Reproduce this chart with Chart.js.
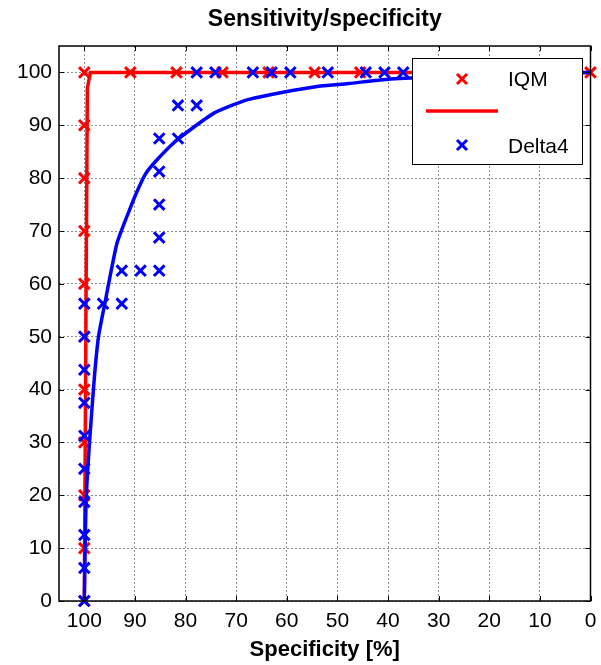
<!DOCTYPE html>
<html>
<head>
<meta charset="utf-8">
<script src="https://cdn.jsdelivr.net/npm/chart.js@4"></script>
<style>
  html, body { margin: 0; padding: 0; background: #fff; }
  #wrap { width: 601px; height: 665px; }
</style>
</head>
<body>
<div id="wrap"><canvas id="roc-chart" width="601" height="665"></canvas></div>
<script>
// IQM points (specificity %, sensitivity %)
const iqmSpec = [100, 100, 100, 100, 100, 100, 100, 100, 100, 100, 90.9, 81.8, 72.7, 63.6, 54.5, 45.5, 0];
const iqmSens = [0, 10, 20, 30, 40, 60, 70, 80, 90, 100, 100, 100, 100, 100, 100, 100, 100];

// IQM fitted curve
const iqmFitSpec = [100, 99.7, 99.4, 98.8, 0];
const iqmFitSens = [0, 50, 97, 100, 100];

// Delta4 points
const deltaSpec = [100, 100, 100, 100, 100, 100, 100, 100, 100, 100, 96.3, 92.6,
  92.6, 88.9, 85.2, 85.2, 85.2, 85.2, 85.2, 81.5, 81.5, 77.8,
  77.8, 74.1, 66.7, 63.0, 59.3, 51.9, 44.4, 40.7, 37.0];
const deltaSens = [0, 6.25, 12.5, 18.75, 25, 31.25, 37.5, 43.75, 50, 56.25, 56.25, 56.25,
  62.5, 62.5, 62.5, 68.75, 75, 81.25, 87.5, 87.5, 93.75, 93.75,
  100, 100, 100, 100, 100, 100, 100, 100, 100];

// Delta4 fitted curve
const deltaFitSpec = [100, 99.6, 98.2, 97.2, 95.8, 95.0, 93.6, 92.5, 91.4, 89.8, 87.9, 85.9, 82.3, 79.0, 74.4, 70.5, 67.5, 61, 54.3, 47.8, 40, 30, 20, 10, 0];
const deltaFitSens = [0, 20, 40, 50, 57, 61, 67.5, 70.5, 73.2, 77, 80.8, 83.2, 86.7, 89.2, 92.3, 93.9, 94.9, 96.2, 97.3, 97.9, 98.7, 99.2, 99.6, 99.9, 100];

const tickVals = [0, 10, 20, 30, 40, 50, 60, 70, 80, 90, 100];

const pts = (xs, ys) => xs.map((x, i) => ({ x: x, y: ys[i] }));

const font = "Arial, 'Liberation Sans', sans-serif";

// MATLAB-like box, inward ticks and legend
const boxPlugin = {
  id: 'box',
  afterDatasetsDraw(chart) {
    const ctx = chart.ctx;
    const a = chart.chartArea;
    const xs = chart.scales.x, ys = chart.scales.y;
    ctx.save();
    ctx.strokeStyle = '#000';
    ctx.lineWidth = 1;
    ctx.beginPath();
    tickVals.forEach(v => {
      const px = Math.round(xs.getPixelForValue(v)) + 0.5;
      ctx.moveTo(px, a.bottom); ctx.lineTo(px, a.bottom - 5);
      ctx.moveTo(px, a.top); ctx.lineTo(px, a.top + 5);
      const py = Math.round(ys.getPixelForValue(v)) + 0.5;
      ctx.moveTo(a.left, py); ctx.lineTo(a.left + 5, py);
      ctx.moveTo(a.right, py); ctx.lineTo(a.right - 5, py);
    });
    ctx.stroke();
    ctx.lineWidth = 1.5;
    ctx.strokeRect(a.left, a.top, a.right - a.left, a.bottom - a.top);

    // legend
    const lx = 412, ly = 58, lw = 170, lh = 106;
    ctx.fillStyle = '#fff';
    ctx.fillRect(lx, ly, lw, lh);
    ctx.lineWidth = 1;
    ctx.strokeRect(lx + 0.5, ly + 0.5, lw, lh);

    const cross = (cx, cy, color) => {
      ctx.strokeStyle = color;
      ctx.lineWidth = 3;
      ctx.beginPath();
      ctx.moveTo(cx - 5, cy - 5); ctx.lineTo(cx + 5, cy + 5);
      ctx.moveTo(cx - 5, cy + 5); ctx.lineTo(cx + 5, cy - 5);
      ctx.stroke();
    };
    cross(462, 79, '#ff0000');
    cross(462, 145, '#0000ff');
    ctx.strokeStyle = '#ff0000';
    ctx.lineWidth = 3.5;
    ctx.beginPath();
    ctx.moveTo(426, 111); ctx.lineTo(498, 111);
    ctx.stroke();

    ctx.fillStyle = '#000';
    ctx.font = '21px ' + font;
    ctx.textBaseline = 'middle';
    ctx.textAlign = 'left';
    ctx.fillText('IQM', 508, 80);
    ctx.fillText('Delta4', 508, 147);
    ctx.restore();
  }
};

const rocChart = new Chart(document.getElementById('roc-chart'), {
  type: 'scatter',
  data: {
    datasets: [
      {
        label: 'Delta4 fit',
        data: pts(deltaFitSpec, deltaFitSens),
        showLine: true,
        borderColor: '#0000ff',
        borderWidth: 3.5,
        pointRadius: 0,
        tension: 0.2,
        order: 1
      },
      {
        label: 'Delta4',
        data: pts(deltaSpec, deltaSens),
        pointStyle: 'crossRot',
        pointRadius: 7.5,
        pointBorderWidth: 3,
        borderColor: '#0000ff',
        backgroundColor: '#0000ff',
        clip: false,
        order: 2
      },
      {
        label: 'IQM fit',
        data: pts(iqmFitSpec, iqmFitSens),
        showLine: true,
        borderColor: '#ff0000',
        borderWidth: 3.5,
        pointRadius: 0,
        tension: 0,
        order: 3
      },
      {
        label: 'IQM',
        data: pts(iqmSpec, iqmSens),
        pointStyle: 'crossRot',
        pointRadius: 7.5,
        pointBorderWidth: 3,
        borderColor: '#ff0000',
        backgroundColor: '#ff0000',
        clip: false,
        order: 4
      }
    ]
  },
  options: {
    responsive: false,
    animation: false,
    layout: { padding: { left: 0, right: 8, top: 0, bottom: 0 } },
    plugins: {
      legend: { display: false },
      tooltip: { enabled: false },
      title: {
        display: true,
        fullSize: false,
        text: 'Sensitivity/specificity',
        color: '#000',
        font: { family: font, size: 23, weight: 'bold', lineHeight: 1.2 },
        padding: { top: 6, bottom: 12.4 }
      }
    },
    scales: {
      x: {
        type: 'linear',
        reverse: true,
        min: 0,
        max: 105,
        afterBuildTicks: s => { s.ticks = tickVals.map(v => ({ value: v })); },
        afterFit: s => { s.height = 64; },
        ticks: {
          color: '#000',
          font: { family: font, size: 21 },
          padding: 8,
          maxRotation: 0
        },
        grid: { color: '#8c8c8c', lineWidth: 1, drawTicks: false },
        border: { display: false, dash: [2, 2] },
        title: {
          display: true,
          text: 'Specificity [%]',
          color: '#000',
          font: { family: font, size: 22, weight: 'bold' },
          padding: { top: 0, bottom: 2 }
        }
      },
      y: {
        type: 'linear',
        min: 0,
        max: 105,
        afterBuildTicks: s => { s.ticks = tickVals.map(v => ({ value: v })); },
        afterFit: s => { s.width = 59; },
        ticks: {
          color: '#000',
          font: { family: font, size: 21 },
          padding: 7
        },
        grid: { color: '#8c8c8c', lineWidth: 1, drawTicks: false },
        border: { display: false, dash: [2, 2] }
      }
    }
  },
  plugins: [boxPlugin]
});
</script>
</body>
</html>
